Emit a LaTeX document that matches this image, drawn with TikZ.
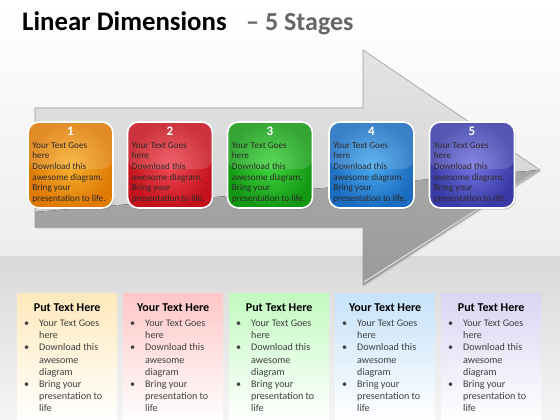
\documentclass[tikz,border=0pt]{standalone}
\usepackage{fontspec}
\setmainfont{Carlito}
\usetikzlibrary{shadows,calc}
\definecolor{arrowtop}{HTML}{E4E4E4}
\definecolor{arrowbot}{HTML}{CDCDCD}
\definecolor{arrowdark}{HTML}{989898}
\definecolor{txtdark}{HTML}{2E2A28}
\definecolor{coltxt}{HTML}{404040}
\definecolor{subgray}{HTML}{666666}
\definecolor{oin}{HTML}{F8B030}\definecolor{oout}{HTML}{DE7A04}
\definecolor{rin}{HTML}{F04A56}\definecolor{rout}{HTML}{C4121C}
\definecolor{gin}{HTML}{40D640}\definecolor{gout}{HTML}{149814}
\definecolor{bin}{HTML}{4AAAEE}\definecolor{bout}{HTML}{1A6CC0}
\definecolor{pin}{HTML}{7474E0}\definecolor{pout}{HTML}{3A3AA6}
\definecolor{ocol}{HTML}{FFE9BC}
\definecolor{rcol}{HTML}{FFC6C6}
\definecolor{gcol}{HTML}{C2FAC0}
\definecolor{bcol}{HTML}{C6E2FA}
\definecolor{pcol}{HTML}{D8D6F2}
\newcommand\blt[1]{\makebox[15pt][l]{\textbullet}#1}
\newcommand\cnt[1]{\hspace*{15pt}#1}
\tikzset{
  stagebox/.style={rounded corners=11pt, draw=white, line width=1.6pt,
    minimum width=85pt, minimum height=86pt, inner sep=0pt,
    drop shadow={shadow xshift=1.2pt, shadow yshift=-1.6pt, opacity=0.35},
    path picture={\fill[white,opacity=0.14] (path picture bounding box.north west) rectangle ($(path picture bounding box.east)+(0,4)$);}},
  stagenum/.style={text=white, font=\bfseries\fontsize{13}{14}\selectfont, inner sep=0pt},
  stagetext/.style={text=txtdark, font=\fontsize{9.2}{10.6}\selectfont, align=left, inner sep=0pt, anchor=north west},
  colbox/.style={minimum width=100pt, minimum height=127pt, inner sep=0pt, anchor=north west},
  colhead/.style={text=black, font=\bfseries\fontsize{12}{13}\selectfont, inner sep=0pt},
  coltext/.style={text=coltxt, font=\fontsize{10.1}{12.1}\selectfont, align=left, inner sep=0pt, anchor=north west},
}
\begin{document}
\begin{tikzpicture}[x=1pt,y=-1pt]
\useasboundingbox (0,0) rectangle (560,420);
% background
\fill[top color=white, bottom color=black!7] (0,0) rectangle (560,256);
\fill[top color=black!15, bottom color=black!4] (0,256) rectangle (560,420);
% title
\node[anchor=base west, inner sep=0pt, font=\bfseries\fontsize{26.8}{30}\selectfont] (title) at (22,31) {Linear Dimensions};
\node[anchor=base west, inner sep=0pt, text=subgray, font=\bfseries\fontsize{26}{30}\selectfont] (subtitle) at (246,31) {– 5 Stages};
% arrow
\path[top color=arrowtop, bottom color=arrowbot, drop shadow={opacity=0.25, shadow xshift=1pt, shadow yshift=-1.5pt}]
  (35,108) -- (363,108) -- (363,50) -- (540,170) -- (363,285) -- (363,227) -- (35,227) -- cycle;
\begin{scope}
\clip (35,108) -- (363,108) -- (363,50) -- (540,170) -- (363,285) -- (363,227) -- (35,227) -- cycle;
\fill[top color=arrowdark!85, bottom color=arrowdark] (35,212) -- (540,170) -- (560,300) -- (0,300) -- cycle;
\draw[white, opacity=0.55, line width=1.5pt] (364,282) -- (538,171);
\end{scope}
\draw[black!40, line width=0.6pt, line join=miter] (35,108) -- (363,108) -- (363,50) -- (540,170) -- (363,285) -- (363,227) -- (35,227) -- cycle;
% stage boxes
\foreach \i/\x/\ci/\co in {1/70.5/oin/oout, 2/170/rin/rout, 3/270/gin/gout, 4/371.5/bin/bout, 5/472/pin/pout}{
  \node[stagebox, inner color=\ci, outer color=\co] (s\i) at (\x,165) {};
  \node[stagenum] (n\i) at ($(s\i.north)+(0,10.5)$) {\i};
  \node[stagetext] (t\i) at ($(s\i.north west)+(5,21)$) {Your Text Goes\\here\\Download this\\awesome diagram.\\Bring your\\presentation to life.};
}
% bottom columns
\foreach \i/\x/\c/\h in {1/17/ocol/Put Text Here, 2/123/rcol/Your Text Here, 3/229/gcol/Put Text Here, 4/335/bcol/Your Text Here, 5/441/pcol/Put Text Here}{
  \node[colbox, top color=\c, bottom color=white, middle color=\c!50] (c\i) at (\x,293) {};
  \node[colhead] (h\i) at ($(c\i.north)+(0,14.5)$) {\h};
  \node[coltext] (l\i) at ($(c\i.north west)+(7,27)$) {\blt{Your Text Goes}\\\cnt{here}\\\blt{Download this}\\\cnt{awesome}\\\cnt{diagram}\\\blt{Bring your}\\\cnt{presentation to}\\\cnt{life}};
}
\end{tikzpicture}
\end{document}
